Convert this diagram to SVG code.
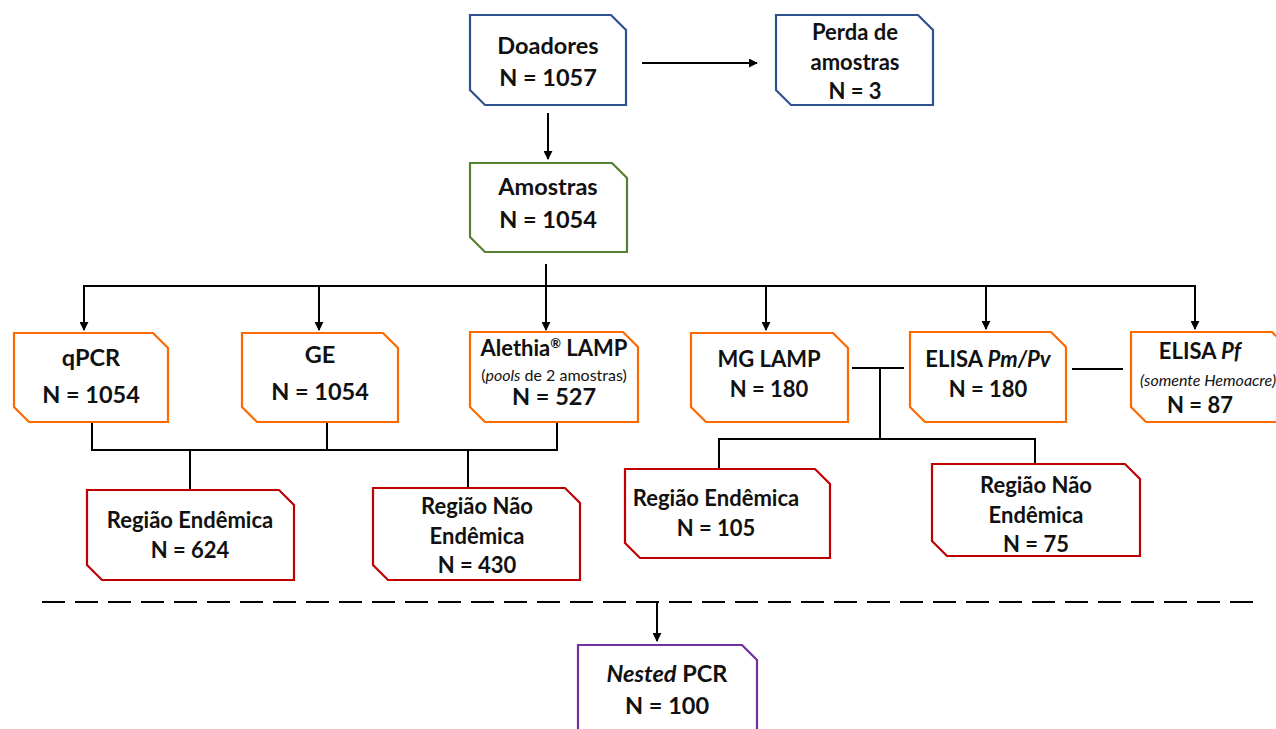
<svg xmlns="http://www.w3.org/2000/svg" width="1276" height="729" viewBox="0 0 1276 729">
<style>
.box{fill:#fff;stroke-width:2.2;stroke-linejoin:miter}
.blue{stroke:#2F528F}.green{stroke:#548235}.orange{stroke:#FF6A00}.red{stroke:#C00000}.purple{stroke:#7030A0}
text{font-family:Lato,"Open Sans","Liberation Sans",sans-serif;font-weight:bold;fill:#111;text-anchor:middle}
.t{font-size:23.5px}.s{font-size:22px}.sm{font-size:16px;font-weight:normal}.it{font-style:italic}
.c line,.c polyline{stroke:#000;stroke-width:2;fill:none}
.dash{stroke:#000;stroke-width:2.5;stroke-dasharray:23 10}
</style>
<defs>
<marker id="ah" viewBox="0 0 10 10" refX="9" refY="5" markerWidth="9" markerHeight="9" markerUnits="userSpaceOnUse" orient="auto">
<path d="M0,0 L10,5 L0,10 Z" fill="#000"/>
</marker>
</defs>
<g class="c" id="connectors">
<line x1="642" y1="63" x2="757" y2="63" marker-end="url(#ah)"/>
<line x1="548" y1="113" x2="548" y2="159" marker-end="url(#ah)"/>
<line x1="546" y1="264" x2="546" y2="330" marker-end="url(#ah)"/>
<line x1="83" y1="286" x2="1196" y2="286"/>
<line x1="84" y1="286" x2="84" y2="330" marker-end="url(#ah)"/>
<line x1="319" y1="286" x2="319" y2="330" marker-end="url(#ah)"/>
<line x1="766" y1="286" x2="766" y2="330" marker-end="url(#ah)"/>
<line x1="986" y1="286" x2="986" y2="329" marker-end="url(#ah)"/>
<line x1="1195" y1="286" x2="1195" y2="329" marker-end="url(#ah)"/>
<polyline points="92,422 92,450 557,450 557,422"/>
<line x1="327" y1="422" x2="327" y2="450"/>
<line x1="190" y1="450" x2="190" y2="489"/>
<line x1="468" y1="450" x2="468" y2="487"/>
<line x1="852" y1="368" x2="904" y2="368"/>
<line x1="880" y1="368" x2="880" y2="439"/>
<polyline points="719,468 719,439 1035,439 1035,464"/>
<line x1="1072" y1="369" x2="1123" y2="369"/>
<line class="dash" x1="42" y1="602" x2="1262" y2="602"/>
<line x1="657" y1="603" x2="657" y2="641" marker-end="url(#ah)"/>
</g>
<g id="doadores">
<path class="box blue" d="M470,15 H611 L626,30 V105 H485 L470,90 Z"/>
<text class="t" x="548" y="54">Doadores</text>
<text class="t" x="548" y="86">N = 1057</text>
</g>
<g id="perda">
<path class="box blue" d="M776,15 H918 L933,30 V105 H791 L776,90 Z"/>
<text class="s" x="855" y="40">Perda de</text>
<text class="s" x="855" y="70">amostras</text>
<text class="s" x="855" y="99">N = 3</text>
</g>
<g id="amostras">
<path class="box green" d="M470,163 H612 L627,178 V252 H485 L470,237 Z"/>
<text class="t" x="548" y="195">Amostras</text>
<text class="t" x="548" y="228">N = 1054</text>
</g>
<g id="qpcr">
<path class="box orange" d="M14,333 H153 L168,348 V422 H29 L14,407 Z"/>
<text class="t" x="91" y="366">qPCR</text>
<text class="t" x="91" y="403">N = 1054</text>
</g>
<g id="ge">
<path class="box orange" d="M242,333 H383 L398,348 V422 H257 L242,407 Z"/>
<text class="t" x="320" y="363">GE</text>
<text class="t" x="320" y="400">N = 1054</text>
</g>
<g id="alethia">
<path class="box orange" d="M470,332 H623 L638,347 V422 H485 L470,407 Z"/>
<text class="s" x="554" y="356">Alethia<tspan font-size="13" dy="-8">®</tspan><tspan dy="8"> LAMP</tspan></text>
<text class="sm" x="554" y="381">(<tspan font-style="italic">pools</tspan> de 2 amostras)</text>
<text class="t" x="554" y="405">N = 527</text>
</g>
<g id="mglamp">
<path class="box orange" d="M691,333 H833 L848,348 V422 H706 L691,407 Z"/>
<text class="s" x="769" y="367">MG LAMP</text>
<text class="s" x="769" y="397">N = 180</text>
</g>
<g id="elisapmpv">
<path class="box orange" d="M910,332 H1051 L1066,347 V422 H925 L910,407 Z"/>
<text class="s" x="988" y="367">ELISA <tspan class="it">Pm/Pv</tspan></text>
<text class="s" x="988" y="397">N = 180</text>
</g>
<g id="elisapf">
<path class="box orange" d="M1131,332 H1272 L1287,347 V422 H1146 L1131,407 Z"/>
<text class="s" x="1200" y="359">ELISA <tspan class="it">Pf</tspan></text>
<text class="sm it" x="1208" y="386">(somente Hemoacre)</text>
<text class="s" x="1200" y="413">N = 87</text>
</g>
<g id="endemica624">
<path class="box red" d="M87,490 H279 L294,505 V580 H102 L87,565 Z"/>
<text class="s" x="190" y="528">Região Endêmica</text>
<text class="s" x="190" y="558">N = 624</text>
</g>
<g id="naoendemica430">
<path class="box red" d="M373,488 H565 L580,503 V580 H388 L373,565 Z"/>
<text class="s" x="477" y="514">Região Não</text>
<text class="s" x="477" y="544">Endêmica</text>
<text class="s" x="477" y="573">N = 430</text>
</g>
<g id="endemica105">
<path class="box red" d="M625,469 H815 L830,484 V558 H640 L625,543 Z"/>
<text class="s" x="716" y="506">Região Endêmica</text>
<text class="s" x="716" y="536">N = 105</text>
</g>
<g id="naoendemica75">
<path class="box red" d="M932,464 H1125 L1140,479 V556 H947 L932,541 Z"/>
<text class="s" x="1036" y="493">Região Não</text>
<text class="s" x="1036" y="523">Endêmica</text>
<text class="s" x="1036" y="552">N = 75</text>
</g>
<g id="nestedpcr">
<path class="box purple" d="M578,645 H742 L757,660 V740 H578 Z"/>
<text class="t" x="667" y="682"><tspan class="it">Nested</tspan> PCR</text>
<text class="t" x="667" y="714">N = 100</text>
</g>
</svg>
